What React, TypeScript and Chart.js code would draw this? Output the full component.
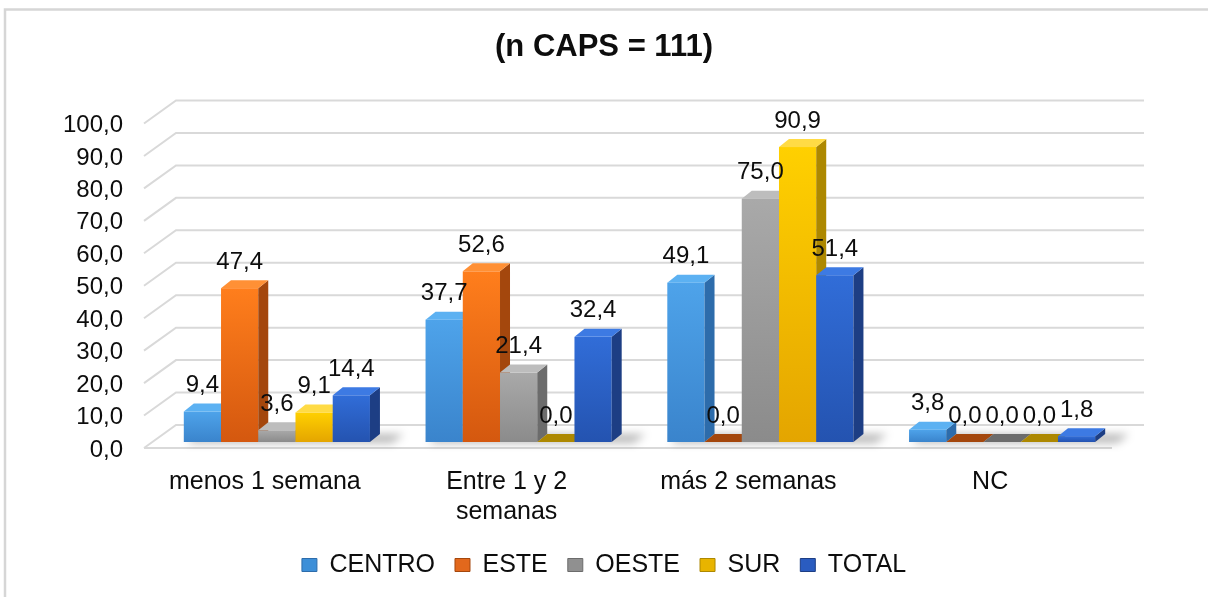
import { useEffect, useRef } from 'react';
import { Chart, registerables } from 'chart.js';

Chart.register(...registerables);

// ---------- data ----------
const categories: (string | string[])[] = [
  'menos 1 semana',
  ['Entre 1 y 2', 'semanas'],
  'más 2 semanas',
  'NC',
];
const seriesNames = ['CENTRO', 'ESTE', 'OESTE', 'SUR', 'TOTAL'];
const centro = [9.4, 37.7, 49.1, 3.8];
const este = [47.4, 52.6, 0.0, 0.0];
const oeste = [3.6, 21.4, 75.0, 0.0];
const sur = [9.1, 0.0, 90.9, 0.0];
const total = [14.4, 32.4, 51.4, 1.8];
const seriesValues = [centro, este, oeste, sur, total];
const yTickValues = [0, 10, 20, 30, 40, 50, 60, 70, 80, 90, 100];
const titleText = '(n CAPS = 111)';

// ---------- styles ----------
const FONT = '"Liberation Sans", Arial, sans-serif';
const palette = [
  { legend: '#3d8fd8', f0: '#4ea3ea', f1: '#3a84cc', top: '#5cb1f2', side: '#2d6cab' },
  { legend: '#e2681c', f0: '#ff7e1c', f1: '#d4580f', top: '#ff9035', side: '#a4470d' },
  { legend: '#909090', f0: '#a9a9a9', f1: '#8b8b8b', top: '#bdbdbd', side: '#6c6c6c' },
  { legend: '#e8b400', f0: '#ffd000', f1: '#e4a500', top: '#ffdb45', side: '#ad8800' },
  { legend: '#2a5cc0', f0: '#316dd8', f1: '#2453b0', top: '#3d7ae3', side: '#1d3e84' },
];
const DX = 10;
const DY = 8;
const GDX = 32;
const GDY = 23;
const TICK_SHIFT = 6;

const fmt = (v: number) => v.toFixed(1).replace('.', ',');

const bars3d = {
  id: 'bars3d',
  beforeDatasetsDraw(chart: any) {
    const { ctx, chartArea, scales } = chart;
    const ys = scales.y;
    const fx = chartArea.left - 12;
    const bx = fx + GDX;
    const ex = chartArea.right + 21;
    ctx.save();
    ctx.strokeStyle = '#d9d9d9';
    ctx.lineWidth = 2;
    ys.ticks.forEach((t: any) => {
      const yf = ys.getPixelForValue(t.value) + TICK_SHIFT;
      const yk = yf - GDY;
      ctx.beginPath();
      ctx.moveTo(fx, yf);
      ctx.lineTo(bx, yk);
      ctx.lineTo(ex, yk);
      ctx.stroke();
    });
    const y0 = ys.getPixelForValue(0) + TICK_SHIFT;
    ctx.beginPath();
    ctx.moveTo(fx, y0);
    ctx.lineTo(ex - GDX, y0);
    ctx.stroke();
    ctx.restore();
  },
  afterDatasetsDraw(chart: any) {
    const { ctx } = chart;
    const items: any[] = [];
    chart.data.datasets.forEach((ds: any, i: number) => {
      const meta = chart.getDatasetMeta(i);
      meta.data.forEach((el: any, j: number) => {
        const p = el.getProps(['x', 'y', 'base', 'width'], true);
        items.push({ ...p, i, j, v: ds.data[j] });
      });
    });
    // shadows per category
    const nCat = categories.length;
    ctx.save();
    ctx.filter = 'blur(4px)';
    ctx.fillStyle = 'rgba(0,0,0,0.28)';
    for (let j = 0; j < nCat; j++) {
      const g = items.filter((b) => b.j === j);
      const l = Math.min(...g.map((b) => b.x - b.width / 2));
      const r = Math.max(...g.map((b) => b.x + b.width / 2));
      const base = g[0].base;
      ctx.beginPath();
      ctx.moveTo(l + 4, base + 1);
      ctx.lineTo(r + 22, base + 1);
      ctx.lineTo(r + 34, base - DY);
      ctx.lineTo(l + DX, base - DY);
      ctx.closePath();
      ctx.fill();
    }
    ctx.restore();

    items.sort((a, b) => a.x - b.x);
    ctx.save();
    items.forEach((b) => {
      const c = palette[b.i];
      const l = b.x - b.width / 2;
      const r = b.x + b.width / 2;
      const top = Math.min(b.y, b.base);
      const bot = b.base;
      if (bot - top > 0.5) {
        const g = ctx.createLinearGradient(0, top, 0, bot);
        g.addColorStop(0, c.f0);
        g.addColorStop(1, c.f1);
        ctx.fillStyle = g;
        ctx.fillRect(l, top, r - l, bot - top);
        ctx.fillStyle = c.side;
        ctx.beginPath();
        ctx.moveTo(r, top);
        ctx.lineTo(r + DX, top - DY);
        ctx.lineTo(r + DX, bot - DY);
        ctx.lineTo(r, bot);
        ctx.closePath();
        ctx.fill();
      }
      ctx.fillStyle = b.v === 0 ? c.side : c.top;
      ctx.beginPath();
      ctx.moveTo(l, top);
      ctx.lineTo(r, top);
      ctx.lineTo(r + DX, top - DY);
      ctx.lineTo(l + DX, top - DY);
      ctx.closePath();
      ctx.fill();
    });
    // value labels
    ctx.font = `24px ${FONT}`;
    ctx.fillStyle = '#0d0d0d';
    ctx.textAlign = 'center';
    ctx.textBaseline = 'middle';
    items.forEach((b) => {
      const top = Math.min(b.y, b.base);
      ctx.fillText(fmt(b.v), b.x, top - 26);
    });
    ctx.restore();
  },
  afterDraw(chart: any) {
    const { ctx } = chart;
    ctx.save();
    ctx.strokeStyle = '#d6d6d6';
    ctx.lineWidth = 2.5;
    ctx.strokeRect(5, 9.5, 1400, 800);
    ctx.restore();
  },
};

export default function App() {
  const ref = useRef<HTMLCanvasElement | null>(null);

  useEffect(() => {
    document.body.style.margin = '0';
    if (!ref.current) return;
    const chart = new Chart(ref.current, {
      type: 'bar',
      data: {
        labels: categories as any,
        datasets: seriesNames.map((name, i) => ({
          label: name,
          data: seriesValues[i],
          backgroundColor: 'rgba(0,0,0,0)',
          borderWidth: 0,
          categoryPercentage: 0.77,
          barPercentage: 1,
          yAxisID: 'y',
        })),
      },
      options: {
        responsive: false,
        animation: false,
        events: [],
        layout: { padding: { left: 0, right: 0, top: 0, bottom: 9.5 } },
        scales: {
          x: {
            grid: { display: false, drawTicks: false },
            border: { display: false },
            ticks: {
              color: '#0d0d0d',
              font: { family: FONT, size: 25 },
              padding: 25,
              labelOffset: -12,
              maxRotation: 0,
              autoSkip: false,
            },
            afterFit: (s: any) => {
              s.height = 90.5;
            },
          },
          y: {
            min: 0,
            max: 100,
            position: 'left',
            grid: { display: false, drawTicks: false },
            border: { display: false },
            afterBuildTicks: (s: any) => {
              s.ticks = yTickValues.map((v) => ({ value: v }));
            },
            ticks: {
              color: '#0d0d0d',
              font: { family: FONT, size: 24 },
              padding: 33,
              labelOffset: 8,
              callback: (v: any) => fmt(Number(v)),
            },
            afterFit: (s: any) => {
              s.width = 156;
            },
          },
          yRight: {
            position: 'right',
            min: 0,
            max: 1,
            grid: { display: false },
            border: { display: false },
            ticks: { display: false },
            afterFit: (s: any) => {
              s.width = 85;
            },
          },
        },
        plugins: {
          tooltip: { enabled: false },
          title: {
            display: true,
            text: titleText,
            color: '#0d0d0d',
            font: { family: FONT, size: 31, weight: 'bold', lineHeight: 1.2 },
            padding: { top: 28.5, bottom: 51.8 },
          },
          legend: {
            display: true,
            position: 'bottom',
            labels: {
              color: '#0d0d0d',
              font: { family: FONT, size: 25 },
              boxWidth: 15,
              boxHeight: 13,
              padding: 20,
              generateLabels: () =>
                seriesNames.map((name, i) => ({
                  text: name,
                  fillStyle: palette[i].legend,
                  strokeStyle: palette[i].side,
                  lineWidth: 1,
                  hidden: false,
                  datasetIndex: i,
                  fontColor: '#0d0d0d',
                })),
            },
          },
        },
      },
      plugins: [bars3d],
    });
    return () => chart.destroy();
  }, []);

  return (
    <div style={{ width: 1208, height: 597, background: '#fff' }}>
      <canvas ref={ref} width={1208} height={597} style={{ display: 'block' }} />
    </div>
  );
}
